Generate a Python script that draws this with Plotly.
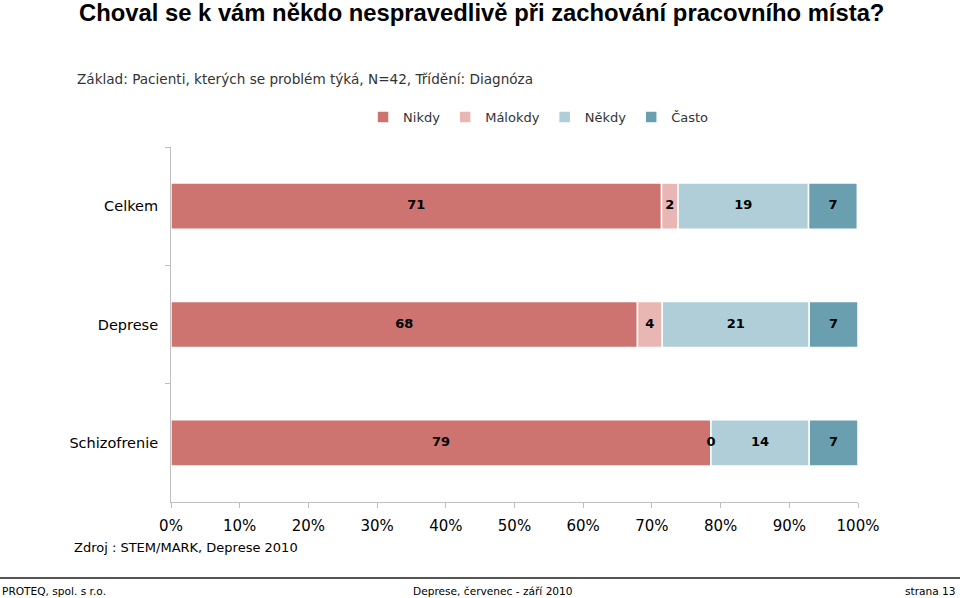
import numpy as np
import plotly.graph_objects as go

categories = ["Celkem", "Deprese", "Schizofrenie"]
series_names = ["Nikdy", "Málokdy", "Někdy", "Často"]
nikdy = [71.4, 67.9, 78.6]
malokdy = [2.4, 3.6, 0.0]
nekdy = [19.0, 21.4, 14.3]
casto = [7.1, 7.1, 7.1]
colors = ["#CD7471", "#E8B7B4", "#AFCED7", "#699FAF"]
tick_vals = [0, 10, 20, 30, 40, 50, 60, 70, 80, 90, 100]
tick_text = [f"{v}%" for v in tick_vals]

series = [nikdy, malokdy, nekdy, casto]
fig = go.Figure()
base = np.zeros(len(categories))
for name, vals, col in zip(series_names, series, colors):
    vals = np.array(vals)
    fig.add_trace(go.Bar(
        y=categories, x=vals, base=base, name=name, orientation="h",
        marker=dict(color=col, line=dict(color="white", width=1.5)),
        width=0.39,
    ))
    fig.add_trace(go.Scatter(
        y=categories, x=base + vals / 2, mode="text",
        text=[f"{v:.0f}" for v in vals],
        textfont=dict(family="DejaVu Sans", size=13, color="black", weight="bold"),
        showlegend=False, hoverinfo="skip",
    ))
    base = base + vals

fig.update_layout(
    width=960, height=598,
    margin=dict(l=171, r=102, t=147, b=96),
    plot_bgcolor="white", paper_bgcolor="white",
    barmode="overlay",
    font=dict(family="DejaVu Sans", color="black"),
    legend=dict(orientation="h", x=0.535, xanchor="center", y=(502 - 117) / 355, yanchor="middle",
                yref="paper", font=dict(size=13, family="DejaVu Sans", color="#333"),
                itemwidth=30, tracegroupgap=0),
    showlegend=True,
)
fig.update_xaxes(range=[0, 100], tickvals=tick_vals, ticktext=tick_text,
                 showgrid=False, zeroline=False, showline=True, linecolor="#BFBFBF",
                 linewidth=1, ticks="outside", ticklen=5, tickcolor="#BFBFBF",
                 tickfont=dict(size=15, family="DejaVu Sans", color="black"),
                 ticklabelstandoff=5)
fig.update_yaxes(categoryorder="array", categoryarray=categories, autorange="reversed",
                 showgrid=False, showline=True, linecolor="#BFBFBF", linewidth=1,
                 ticks="outside", ticklen=5, tickcolor="#BFBFBF", tickson="boundaries",
                 tickfont=dict(size=14.5, family="DejaVu Sans", color="black"),
                 ticklabelstandoff=9)

annots = [
    dict(text="<b>Choval se k vám někdo nespravedlivě při zachování pracovního místa?</b>",
         x=77, y=12, font=dict(size=23.8, family="Liberation Sans Narrow, Arial Narrow, Liberation Sans")),
    dict(text="Základ: Pacienti, kterých se problém týká, N=42, Třídění: Diagnóza",
         x=75, y=79, font=dict(size=13.6, family="DejaVu Sans", color="#333")),
    dict(text="Zdroj : STEM/MARK, Deprese 2010", x=72, y=547,
         font=dict(size=13, family="DejaVu Sans")),
    dict(text="PROTEQ, spol. s r.o.", x=0, y=591, font=dict(size=10.6, family="DejaVu Sans")),
    dict(text="Deprese, červenec - září 2010", x=493, y=591, xanchor="center",
         font=dict(size=10.6, family="DejaVu Sans")),
    dict(text="strana 13", x=958, y=591, xanchor="right", font=dict(size=10.6, family="DejaVu Sans")),
]
for a in annots:
    xa = a.pop("xanchor", "left")
    fig.add_annotation(xref="paper", yref="paper", x=(a.pop("x") - 171) / 687,
                       y=(502 - a.pop("y")) / 355, xanchor=xa, yanchor="middle",
                       showarrow=False, **a)

fig.add_shape(type="line", xref="paper", yref="paper", x0=-171 / 687, x1=789 / 687,
              y0=(502 - 578) / 355, y1=(502 - 578) / 355,
              line=dict(color="#555555", width=2))

fig.write_html("out.html", config={"displayModeBar": False},
               post_script="document.body.style.margin='0';document.body.style.overflow='hidden';")
